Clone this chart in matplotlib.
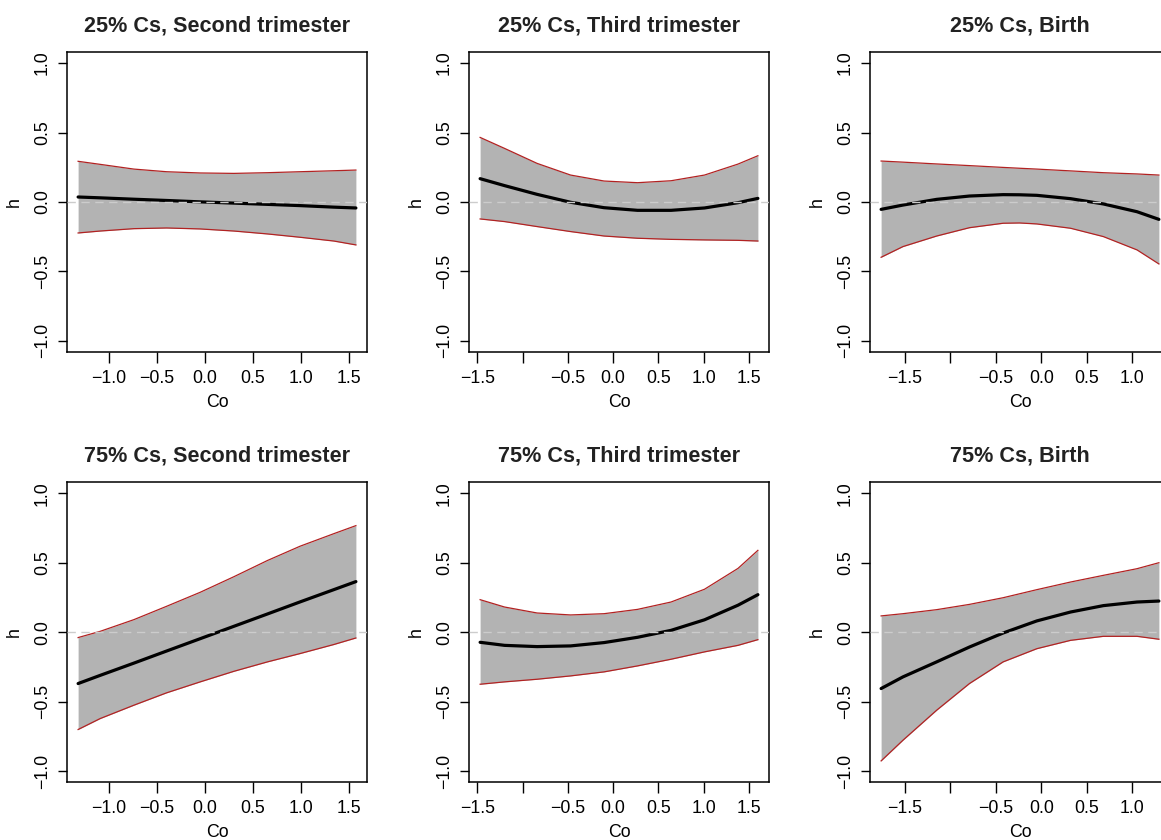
import matplotlib
matplotlib.use("Agg")
import matplotlib.pyplot as plt

plt.rcParams['font.family'] = ['Liberation Sans', 'DejaVu Sans']

titles = ["25% Cs, Second trimester", "25% Cs, Third trimester", "25% Cs, Birth",
          "75% Cs, Second trimester", "75% Cs, Third trimester", "75% Cs, Birth"]

# Panel 1: 25% Cs, Second trimester
p1_x     = [-1.32, -1.09, -0.74, -0.40, -0.05, 0.30, 0.65, 0.99, 1.34, 1.57]
p1_upper = [0.293, 0.271, 0.237, 0.218, 0.209, 0.206, 0.211, 0.218, 0.225, 0.230]
p1_lower = [-0.223, -0.209, -0.192, -0.187, -0.194, -0.209, -0.230, -0.254, -0.281, -0.309]
p1_mean  = [0.036, 0.030, 0.020, 0.011, 0.001, -0.008, -0.017, -0.026, -0.037, -0.043]

# Panel 2: 25% Cs, Third trimester
p2_x     = [-1.47, -1.20, -0.84, -0.47, -0.10, 0.27, 0.64, 1.01, 1.38, 1.60]
p2_upper = [0.465, 0.386, 0.278, 0.194, 0.151, 0.139, 0.153, 0.194, 0.273, 0.333]
p2_lower = [-0.122, -0.141, -0.177, -0.213, -0.245, -0.261, -0.269, -0.273, -0.276, -0.281]
p2_mean  = [0.168, 0.118, 0.055, -0.002, -0.041, -0.060, -0.060, -0.043, -0.005, 0.026]

# Panel 3: 25% Cs, Birth
p3_x     = [-1.76, -1.52, -1.15, -0.79, -0.42, -0.24, -0.05, 0.32, 0.68, 1.05, 1.29]
p3_upper = [0.295, 0.287, 0.274, 0.262, 0.249, 0.243, 0.237, 0.224, 0.211, 0.202, 0.194]
p3_lower = [-0.398, -0.321, -0.245, -0.185, -0.153, -0.151, -0.158, -0.189, -0.249, -0.345, -0.446]
p3_mean  = [-0.053, -0.022, 0.019, 0.043, 0.053, 0.052, 0.048, 0.024, -0.014, -0.070, -0.125]

# Panel 4: 75% Cs, Second trimester
p4_x     = [-1.32, -1.09, -0.74, -0.40, -0.05, 0.30, 0.65, 0.99, 1.34, 1.57]
p4_upper = [-0.038, 0.007, 0.091, 0.187, 0.288, 0.400, 0.517, 0.620, 0.710, 0.768]
p4_lower = [-0.700, -0.621, -0.525, -0.436, -0.357, -0.281, -0.213, -0.153, -0.088, -0.041]
p4_mean  = [-0.369, -0.310, -0.222, -0.135, -0.046, 0.043, 0.132, 0.219, 0.307, 0.365]

# Panel 5: 75% Cs, Third trimester
p5_x     = [-1.47, -1.20, -0.84, -0.47, -0.10, 0.27, 0.64, 1.01, 1.38, 1.60]
p5_upper = [0.235, 0.182, 0.139, 0.125, 0.134, 0.165, 0.218, 0.310, 0.460, 0.590]
p5_lower = [-0.374, -0.357, -0.338, -0.314, -0.285, -0.242, -0.194, -0.141, -0.094, -0.053]
p5_mean  = [-0.072, -0.094, -0.103, -0.098, -0.074, -0.036, 0.014, 0.090, 0.195, 0.271]

# Panel 6: 75% Cs, Birth
p6_x     = [-1.76, -1.52, -1.15, -0.79, -0.42, -0.05, 0.32, 0.68, 1.05, 1.29]
p6_upper = [0.118, 0.134, 0.163, 0.201, 0.249, 0.307, 0.362, 0.410, 0.458, 0.501]
p6_lower = [-0.926, -0.777, -0.561, -0.369, -0.213, -0.118, -0.058, -0.029, -0.029, -0.050]
p6_mean  = [-0.405, -0.321, -0.213, -0.106, -0.005, 0.082, 0.146, 0.192, 0.218, 0.225]

panels = [
    (p1_x, p1_upper, p1_lower, p1_mean),
    (p2_x, p2_upper, p2_lower, p2_mean),
    (p3_x, p3_upper, p3_lower, p3_mean),
    (p4_x, p4_upper, p4_lower, p4_mean),
    (p5_x, p5_upper, p5_lower, p5_mean),
    (p6_x, p6_upper, p6_lower, p6_mean),
]

xticks_col = [
    ([-1.0, -0.5, 0.0, 0.5, 1.0, 1.5], ["\u22121.0", "\u22120.5", "0.0", "0.5", "1.0", "1.5"]),
    ([-1.5, -1.0, -0.5, 0.0, 0.5, 1.0, 1.5], ["\u22121.5", "", "\u22120.5", "0.0", "0.5", "1.0", "1.5"]),
    ([-1.5, -1.0, -0.5, 0.0, 0.5, 1.0], ["\u22121.5", "", "\u22120.5", "0.0", "0.5", "1.0"]),
]
yticks = [-1.0, -0.5, 0.0, 0.5, 1.0]
ytick_labels = ["\u22121.0", "\u22120.5", "0.0", "0.5", "1.0"]

W, H = 1161, 840
fig = plt.figure(figsize=(W / 100, H / 100), dpi=100)

col_left = [67, 469, 870]
box_w = 300
row_top = [52, 482.3]
box_h = 300

for i, (x, up, lo, mn) in enumerate(panels):
    r, c = divmod(i, 3)
    left = col_left[c] / W
    bottom = (H - row_top[r] - box_h) / H
    ax = fig.add_axes([left, bottom, box_w / W, box_h / H])
    ax.fill_between(x, lo, up, color="#B3B3B3", linewidth=0, zorder=1)
    ax.plot(x, up, color="#B22222", lw=0.9, zorder=2)
    ax.plot(x, lo, color="#B22222", lw=0.9, zorder=2)
    ax.plot(x, mn, color="black", lw=2.3, zorder=3, solid_capstyle="round",
            solid_joinstyle="round")
    ax.axhline(0, color="#CCCCCC", lw=1.0, dashes=(6, 4), zorder=4)
    xmin, xmax = min(x), max(x)
    ext = 0.04 * (xmax - xmin)
    ax.set_xlim(xmin - ext, xmax + ext)
    ax.set_ylim(-1.08, 1.08)
    tv, tl = xticks_col[c]
    ax.set_xticks(tv)
    ax.set_xticklabels(tl)
    ax.set_yticks(yticks)
    ax.set_yticklabels(ytick_labels, rotation=90, va="center")
    ax.tick_params(axis="x", length=8, width=1.0, pad=5, labelsize=12.8, direction="out")
    ax.tick_params(axis="y", length=6.5, width=1.0, pad=5, labelsize=12.8, direction="out")
    for s in ax.spines.values():
        s.set_linewidth(1.1)
    ax.set_title(titles[i], fontsize=15.6, fontweight="bold", pad=15, color="#222222")
    ax.set_xlabel("Co", fontsize=12.8, labelpad=5)
    ax.set_ylabel("h", fontsize=12.8, labelpad=8)

fig.savefig("out.png", dpi=100)
